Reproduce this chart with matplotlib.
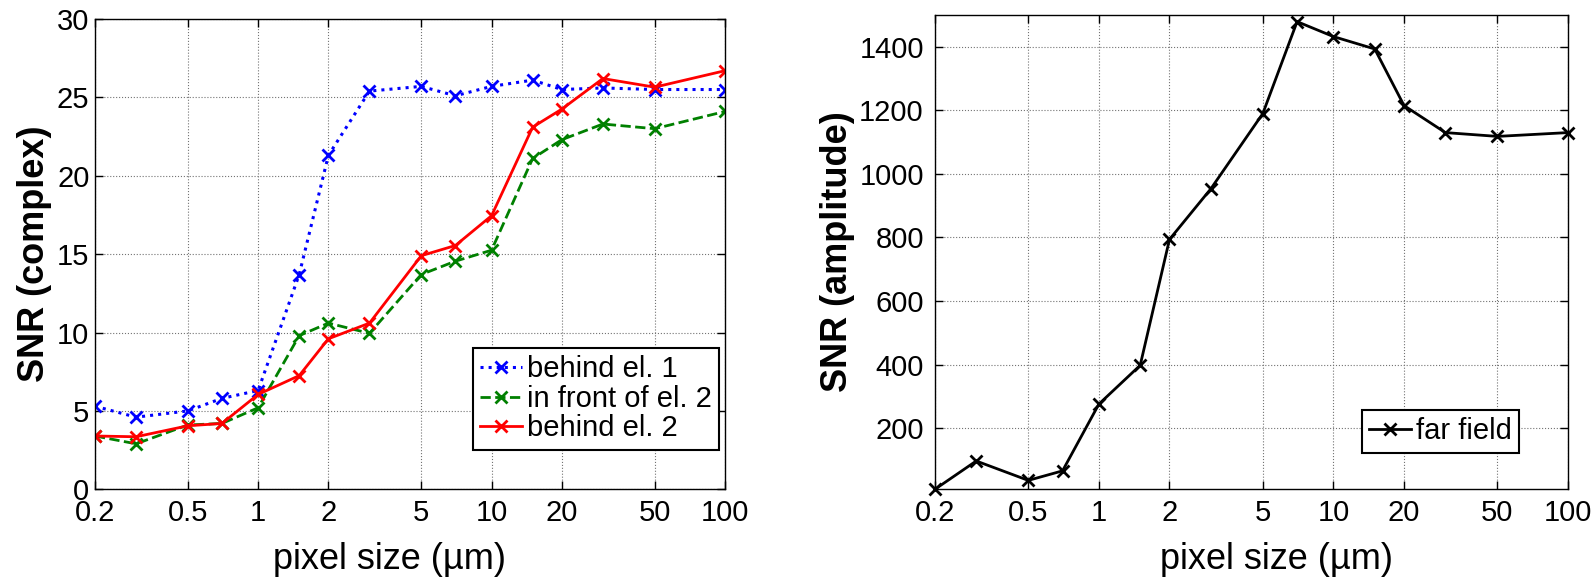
import numpy as np
import matplotlib
matplotlib.use("Agg")
from matplotlib import pyplot as plt
from matplotlib.ticker import FixedLocator, NullLocator, FixedFormatter

plt.rcParams['font.family'] = ['Liberation Sans', 'DejaVu Sans']

# pixel size (um)
pixel_size = [0.2, 0.3, 0.5, 0.7, 1, 1.5, 2, 3, 5, 7, 10, 15, 20, 30, 50, 100]

# SNR (complex)
behind_el1 = [5.3, 4.6, 5.0, 5.8, 6.3, 13.7, 21.3, 25.4, 25.7, 25.1, 25.7, 26.1, 25.5, 25.6, 25.5, 25.5]
front_el2 = [3.4, 2.9, 4.1, 4.2, 5.2, 9.8, 10.6, 9.95, 13.7, 14.55, 15.25, 21.1, 22.3, 23.3, 23.0, 24.1]
behind_el2 = [3.4, 3.35, 4.05, 4.2, 6.05, 7.25, 9.6, 10.6, 14.9, 15.55, 17.45, 23.1, 24.25, 26.2, 25.65, 26.7]

# SNR (amplitude)
far_field = [8, 97, 36, 66, 276, 398, 794, 953, 1190, 1479, 1432, 1393, 1215, 1130, 1118, 1130]

x_ticks = [0.2, 0.5, 1, 2, 5, 10, 20, 50, 100]
x_tick_labels = ["0.2", "0.5", "1", "2", "5", "10", "20", "50", "100"]

TICK_FS = 21
LABEL_FS = 26
LEGEND_FS = 21


def style_axes(ax, ypad, xlabel_x):
    ax.set_xscale('log')
    ax.set_xlim(0.2, 100)
    ax.xaxis.set_major_locator(FixedLocator(x_ticks))
    ax.xaxis.set_major_formatter(FixedFormatter(x_tick_labels))
    ax.xaxis.set_minor_locator(NullLocator())
    ax.tick_params(direction='in', top=True, right=True, length=6, width=1,
                   labelsize=TICK_FS)
    ax.tick_params(axis='x', pad=7)
    ax.tick_params(axis='y', pad=ypad)
    ax.grid(True, which='major', linestyle=':', color='0.45', linewidth=0.8)
    for s in ax.spines.values():
        s.set_linewidth(1.0)
    ax.set_xlabel("pixel size (µm)", fontsize=LABEL_FS)
    ax.xaxis.set_label_coords(xlabel_x, -0.112)
    ax.xaxis.label.set_va('top')


def make_legend(ax, anchor):
    leg = ax.legend(loc='upper left', bbox_to_anchor=anchor, fontsize=LEGEND_FS,
                    numpoints=1, handlelength=1.45, handletextpad=0.17, borderpad=0.25,
                    labelspacing=0.05, borderaxespad=0, fancybox=False, framealpha=1)
    leg.get_frame().set_edgecolor('black')
    leg.get_frame().set_linewidth(1.5)
    return leg


fig = plt.figure(figsize=(15.93, 5.82), dpi=100)

# left panel
ax1 = fig.add_axes([0.0596, 0.1593, 0.3955, 0.8081])
ax1.plot(pixel_size, behind_el1, color='#0000ff', linestyle=':', linewidth=2.2,
         marker='x', markersize=8, markeredgewidth=2, label='behind el. 1')
ax1.plot(pixel_size, front_el2, color='#008000', linestyle='--', linewidth=2,
         marker='x', markersize=8, markeredgewidth=2, label='in front of el. 2')
ax1.plot(pixel_size, behind_el2, color='#ff0000', linestyle='-', linewidth=2,
         marker='x', markersize=8, markeredgewidth=2, label='behind el. 2')
style_axes(ax1, 4, 0.468)
ax1.set_ylim(0, 30)
ax1.set_yticks([0, 5, 10, 15, 20, 25, 30])
ax1.set_ylabel("SNR (complex)", fontsize=LABEL_FS, fontweight='bold')
ax1.yaxis.set_label_coords(-0.068, 0.5)
make_legend(ax1, (0.5995, 0.3004))

# right panel
ax2 = fig.add_axes([0.5869, 0.1593, 0.3974, 0.815])
ax2.plot(pixel_size, far_field, color='black', linestyle='-', linewidth=2,
         marker='x', markersize=8, markeredgewidth=2, label='far field', clip_on=False)
style_axes(ax2, 8, 0.540)
ax2.set_ylim(far_field[0], 1500)
ax2.set_yticks([200, 400, 600, 800, 1000, 1200, 1400])
ax2.set_ylabel("SNR (amplitude)", fontsize=LABEL_FS, fontweight='bold')
ax2.yaxis.set_label_coords(-0.126, 0.5)
make_legend(ax2, (0.674, 0.1672))

fig.savefig("out.png", dpi=100)
